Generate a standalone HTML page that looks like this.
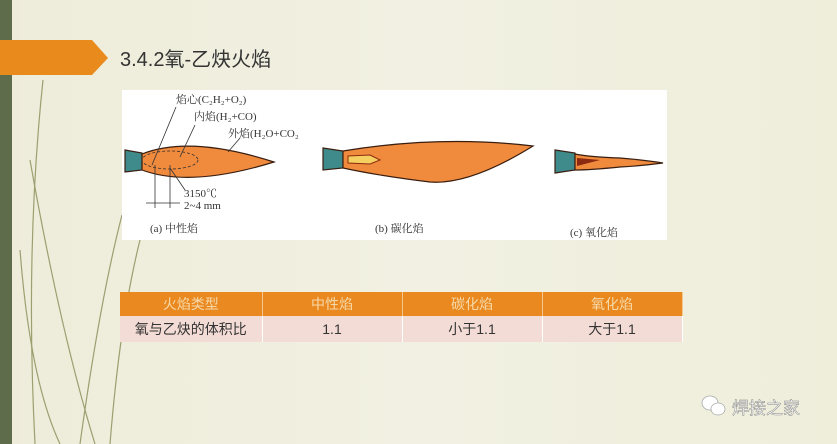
<!DOCTYPE html>
<html><head><meta charset="utf-8"><style>
body{margin:0}
.s{width:837px;height:444px;position:relative;overflow:hidden;background:linear-gradient(90deg,#eeecd9 0%,#f1f0e2 50%,#efeedb 100%);font-family:"Liberation Sans","Noto Sans CJK SC",sans-serif}
table{position:absolute;left:120px;top:292px;width:562px;border-collapse:collapse;font-size:14px;text-align:center;table-layout:fixed}
th{background:#e9891f;color:#f7d9a8;font-weight:normal;height:24px;padding:0;border-right:1px solid #f3c890}
td{background:#f4dcd6;color:#333;height:26px;padding:0;border-right:1px solid #fff}
</style></head><body><div class="s">
<svg width="837" height="444" style="position:absolute;left:0;top:0">
<rect x="0" y="0" width="12" height="444" fill="#5f6c4c"/>
<g stroke="#9aa070" stroke-width="1.2" fill="none">
<path d="M43 80 Q25 250 35 444"/><path d="M30 160 Q60 330 95 444"/><path d="M20 250 Q30 380 60 444"/>
<path d="M80 444 Q100 300 122 215"/><path d="M110 444 Q120 320 140 240"/>
</g>
<polygon points="0,40 92,40 108,58 92,75 0,75" fill="#e98a1c"/>
<text x="120" y="66" font-size="20" fill="#333">3.4.2氧-乙炔火焰</text>
<rect x="122" y="90" width="545" height="150" fill="#fff"/>
<g stroke="#3a1e10" stroke-width="1.2">
<polygon points="125,150 142,153 142,170 125,172" fill="#3f8a8a"/>
<path d="M142,154 Q190,135 274,162 Q190,188 142,170 Z" fill="#f08a3d"/>
<polygon points="323,148 343,151 343,168 323,170" fill="#3f8a8a"/>
<path d="M343,151 Q440,135 533,146 Q470,185 430,182 Q380,176 343,168 Z" fill="#f08a3d"/>
<polygon points="555,150 575,153 575,170 555,173" fill="#3f8a8a"/>
<path d="M575,154 Q590,157 620,158 Q645,160 663,163 Q640,166 620,167 Q590,170 575,170 Z" fill="#f08a3d"/>
</g>
<path d="M348,156 L370,155 L380,160 L370,164 L348,163Z" fill="#f5d060" stroke="#8b2a10"/>
<path d="M577,158 L600,160 L577,166Z" fill="#8b2a10"/>
<g fill="none" stroke="#333" stroke-width="0.8">
<ellipse cx="170" cy="160" rx="28" ry="9" stroke-dasharray="3,2"/>
<line x1="152" y1="165" x2="176" y2="107"/><line x1="180" y1="157" x2="195" y2="125"/><line x1="228" y1="152" x2="240" y2="138"/>
<line x1="155" y1="165" x2="155" y2="208"/><line x1="170" y1="165" x2="170" y2="208"/><line x1="146" y1="203" x2="180" y2="203"/>
<line x1="170" y1="168" x2="185" y2="190"/>
</g>
<g font-family="Liberation Serif,Noto Serif CJK SC,serif" font-size="11" fill="#333">
<text x="176" y="103">焰心(C₂H₂+O₂)</text>
<text x="194" y="120">内焰(H₂+CO)</text>
<text x="228" y="137">外焰(H₂O+CO₂</text>
<text x="184" y="197">3150℃</text>
<text x="184" y="209">2~4 mm</text>
<text x="150" y="232">(a) 中性焰</text>
<text x="375" y="232">(b) 碳化焰</text>
<text x="570" y="236">(c) 氧化焰</text>
</g>
<g fill="#fff" stroke="#aaa" stroke-width="0.8"><ellipse cx="710" cy="403" rx="8" ry="7"/><ellipse cx="718" cy="409" rx="7" ry="6"/></g>
<text x="732" y="414" font-size="17" fill="#fff" stroke="#888" stroke-width="0.5">焊接之家</text>
</svg>
<table><colgroup><col style="width:142px"><col style="width:140px"><col style="width:140px"><col style="width:140px"></colgroup>
<tr><th>火焰类型</th><th>中性焰</th><th>碳化焰</th><th>氧化焰</th></tr>
<tr><td>氧与乙炔的体积比</td><td>1.1</td><td>小于1.1</td><td>大于1.1</td></tr></table>
</div></body></html>
